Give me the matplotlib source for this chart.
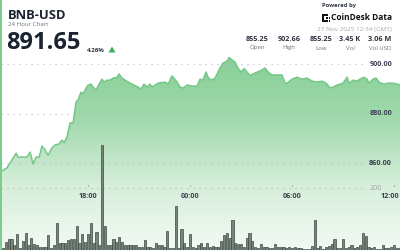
import matplotlib
matplotlib.use("Agg")
import matplotlib.pyplot as plt
import numpy as np
from matplotlib.transforms import blended_transform_factory
from matplotlib.patches import Rectangle, Polygon
from matplotlib.colors import LinearSegmentedColormap

# ---------------- data ----------------
symbol = "BNB-USD"
last_price = "891.65"
change_pct = "4.26%"
stamp = "27 Nov 2025 12:34 (GMT)"
stat_values = ["855.25", "902.66", "855.25", "3.45 K", "3.06 M"]
stat_labels = ["Open", "High", "Low", "Vol", "Vol USD"]

# price line: time in hours (18 = 18:00 day 1, 24 = 00:00, 36 = 12:00 day 2)
price_t = [12.57, 12.92, 13.22, 13.41, 13.59, 13.77, 13.88, 14.06, 14.41, 14.59, 14.77,
           14.94, 15.12, 15.29, 15.47, 15.65, 15.88, 16.06, 16.29, 16.47, 16.59,
           16.76, 16.94, 17.12, 17.29, 17.41, 17.59, 17.71, 17.88, 18.00, 18.18,
           18.29, 18.47, 18.65, 18.82, 18.94, 19.12, 19.29, 19.47, 19.71, 19.82,
           20.00, 20.18, 20.47, 20.71, 20.94, 21.12, 21.29, 21.47, 21.65, 21.76,
           22.12, 22.53, 22.71, 22.94, 23.24, 23.41, 23.59, 23.82, 24.18, 24.41,
           24.59, 24.76, 24.94, 25.06, 25.24, 25.47, 25.76, 25.94, 26.18, 26.29,
           26.47, 26.65, 26.82, 27.00, 27.18, 27.35, 27.53, 27.82, 28.12, 28.41,
           28.59, 28.82, 29.18, 29.41, 29.59, 29.71, 30.00, 30.29, 30.59, 30.88,
           31.18, 31.47, 31.76, 32.00, 32.24, 32.41, 32.65, 33.00, 33.24, 33.35,
           33.59, 33.82, 34.00, 34.24, 34.41, 34.53, 34.76, 34.94, 35.12, 35.41,
           35.65, 35.94, 36.35]
price_v = [855.25, 856.8, 858.0, 860.0, 862.0, 864.0, 862.4, 862.4, 862.4, 864.4, 859.6,
           862.4, 862.4, 866.9, 865.3, 863.2, 866.1, 867.3, 867.7, 869.3, 868.1,
           870.5, 876.2, 876.2, 884.6, 885.5, 888.7, 887.9, 890.3, 891.5, 891.9,
           890.7, 889.5, 891.9, 893.9, 892.7, 893.5, 893.5, 894.3, 894.7, 896.0,
           894.3, 893.5, 892.3, 891.5, 890.7, 889.9, 891.9, 890.7, 891.9, 890.7,
           892.3, 892.7, 891.9, 895.2, 892.7, 890.7, 890.3, 891.5, 891.1, 891.1,
           893.9, 893.5, 896.8, 894.7, 893.5, 894.3, 898.4, 900.4, 901.2, 902.66,
           901.6, 900.8, 898.4, 896.8, 898.2, 896.8, 895.4, 896.4, 897.2, 898.4,
           896.8, 895.6, 895.6, 895.6, 892.3, 892.3, 893.9, 894.7, 893.9, 894.3,
           893.1, 892.7, 893.1, 892.3, 890.3, 890.7, 891.5, 892.3, 894.7, 892.3,
           893.5, 893.1, 893.9, 894.7, 893.9, 892.3, 893.9, 894.3, 892.7, 891.9,
           892.3, 892.3, 891.65]

# 10-minute volume bars starting at 12:50 day 1
vol_start = 12.83
volumes = [16, 6, 26, 35, 35, 16, 52, 6, 29, 55, 16, 39, 19, 16, 10, 10, 10, 48, 6, 16,
           87, 22, 22, 22, 32, 35, 35, 77, 22, 52, 26, 52, 87, 22, 58, 16, 339, 77, 16, 16,
           35, 26, 42, 26, 16, 16, 16, 16, 16, 10, 10, 32, 10, 10, 6, 22, 16, 16, 10, 61,
           6, 6, 142, 6, 68, 22, 10, 52, 10, 6, 16, 22, 10, 22, 10, 13, 10, 10, 29, 48,
           55, 39, 97, 22, 19, 19, 10, 39, 55, 29, 10, 6, 19, 10, 10, 6, 6, 19, 10, 10,
           10, 6, 10, 6, 10, 6, 6, 3, 3, 3, 13, 97, 6, 13, 3, 10, 13, 19, 35, 6,
           6, 35, 6, 10, 16, 6, 10, 16, 55, 45, 10, 6, 10, 3, 3, 16, 6, 6, 10, 16,
           6, 6]

price_ticks = [860, 880, 900]
price_tick_labels = ["860.00", "880.00", "900.00"]
vol_ticks = [200]
vol_tick_labels = ["200"]
time_ticks = [18, 24, 30, 36]
time_tick_labels = ["18:00", "00:00", "06:00", "12:00"]

# ---------------- figure ----------------
W, H = 400, 250
fig = plt.figure(figsize=(4, 2.5), dpi=100)
fig.patch.set_facecolor("white")

FONT = "Open Sans"
dark = "#1b2230"
grey = "#6d7480"

ax = fig.add_axes([0, 0, 1, 1])
ax.axis("off")

# gradient fill under the line
t = np.array(price_t)
v = np.array(price_v)
cmap = LinearSegmentedColormap.from_list("g", ["#f3faf4", "#d6eeda", "#a2d9ad", "#86cf95"])
grad = np.linspace(0, 1, 256).reshape(-1, 1)
im = ax.imshow(grad, aspect="auto", cmap=cmap, origin="lower",
               extent=[12.5, 36.5, 824.85, 903.5], zorder=1)
poly_xy = np.vstack([np.column_stack([t, v]), [[t[-1], 824.85], [t[0], 824.85]]])
clip = Polygon(poly_xy, closed=True, transform=ax.transData, facecolor="none", edgecolor="none")
ax.add_patch(clip)
im.set_clip_path(clip)
ax.set_ylim(824.85, 925.9)
ax.set_xlim(12.82, 36.35)

ax.plot(t, v, color="#74c888", lw=1.1, zorder=3, solid_joinstyle="round")

# dotted gridlines
for p in price_ticks:
    ax.plot([12.9, 34.4], [p, p], color="#b5b8bc", lw=0.8, ls=(0, (1, 4.4)), zorder=2)
trans_lbl = blended_transform_factory(ax.transAxes, ax.transData)
for p, lab in zip(price_ticks, price_tick_labels):
    ax.text(0.98, p, lab, transform=trans_lbl, ha="right", va="center",
            fontsize=5.2, fontweight="bold", color="#3a4150", family=FONT, zorder=4)

# volume axis
ax2 = ax.twinx()
ax2.set_position([0, 0, 1, 1])
ax2.set_xlim(12.82, 36.35)
ax2.set_ylim(0, 200 * 250 / 62)
ax2.axis("off")
vt = vol_start + np.arange(len(volumes)) / 6.0
ax2.bar(vt, volumes, width=0.13, color="#76857a", edgecolor="#3f4a42", linewidth=0.5, zorder=3)
for vv in vol_ticks:
    ax2.plot([12.9, 34.4], [vv, vv], color="#b5b8bc", lw=0.8, ls=(0, (1, 4.4)), zorder=2)
trans_v = blended_transform_factory(ax2.transAxes, ax2.transData)
for vv, lab in zip(vol_ticks, vol_tick_labels):
    ax2.text(0.955, vv, lab, transform=trans_v, ha="right", va="center",
             fontsize=5.2, color="#a0a4aa", family=FONT, zorder=4)

# time labels
trans_t = blended_transform_factory(ax2.transData, fig.transFigure)
for tt, lab in zip(time_ticks, time_tick_labels):
    last = tt == time_ticks[-1]
    ax2.text(36.32 if last else tt, 1 - 196 / H, lab, transform=trans_t,
             ha="right" if last else "center", va="center",
             fontsize=5.2, fontweight="bold", color="#3a4150", family=FONT, zorder=4)
    ax2.plot([tt, tt], [1 - 185 / H, 1 - 186 / H], transform=trans_t, color="#9aa0a6", lw=0.6)

# left accent border
fig.add_artist(Rectangle((0, 0), 1.5 / W, 1, transform=fig.transFigure,
                         facecolor="#7ccc8c", edgecolor="none"))

def fx(px):
    return px / W

def fy(py):
    return 1 - py / H

# header left
fig.text(fx(8), fy(15.5), symbol, fontsize=9.4, fontweight="bold", color=dark, family=FONT,
         ha="left", va="center")
fig.text(fx(8), fy(25), "24 Hour Chart", fontsize=4.4, color=grey, family=FONT,
         ha="left", va="center")
fig.text(fx(6.5), fy(43), last_price, fontsize=17, fontweight="bold", color=dark, family=FONT,
         ha="left", va="center")
fig.text(fx(87), fy(50), change_pct, fontsize=4.4, fontweight="bold", color="#333a45",
         family=FONT, ha="left", va="center")
fig.add_artist(Polygon([[fx(108.5), fy(52.5)], [fx(115.5), fy(52.5)], [fx(112), fy(46.5)]],
                       closed=True, transform=fig.transFigure, facecolor="#3fae5a",
                       edgecolor="none"))

# header right
fig.text(fx(322), fy(6), "Powered by", fontsize=4.2, fontweight="bold", color="#333a45",
         family=FONT, ha="left", va="center")
# logo mark
for (x0, y0, w0, h0) in [(322, 14, 2, 8), (322, 14, 6, 2), (322, 20, 6, 2),
                         (326, 17, 1.5, 1.5), (328.5, 17, 1.5, 1.5), (328.5, 20, 1.5, 1.5)]:
    fig.add_artist(Rectangle((fx(x0), fy(y0 + h0)), w0 / W, h0 / H, transform=fig.transFigure,
                             facecolor="#111111", edgecolor="none"))
fig.text(fx(392), fy(18), "CoinDesk Data", fontsize=6.0, fontweight="bold", color="#111111",
         family=FONT, ha="right", va="center")
fig.text(fx(392), fy(29), stamp, fontsize=4.6, color="#a3a7ad", family=FONT,
         ha="right", va="center")
stat_x = [257, 289, 321, 350, 380]
for sx, sv, sl in zip(stat_x, stat_values, stat_labels):
    fig.text(fx(sx), fy(39.5), sv, fontsize=5.2, fontweight="bold", color="#2e3440",
             family=FONT, ha="center", va="center")
    fig.text(fx(sx), fy(48), sl, fontsize=4.3, color=grey, family=FONT,
             ha="center", va="center")

fig.savefig("out.png", dpi=100, facecolor="white")
